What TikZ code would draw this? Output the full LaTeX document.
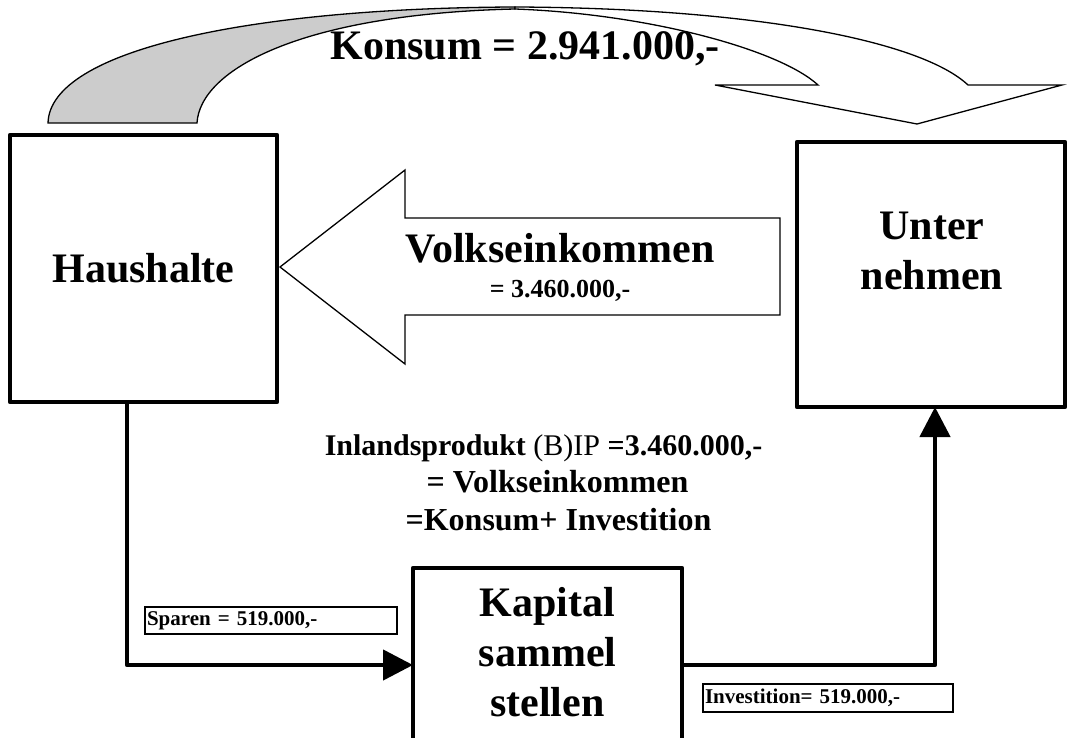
\documentclass[tikz,border=0pt]{standalone}
\usepackage{fontspec}
\setmainfont{Liberation Serif}
\usetikzlibrary{arrows.meta}
\definecolor{ribbonshade}{HTML}{CCCCCC}
\begin{document}
\begin{tikzpicture}[x=1pt,y=-1pt,
  box/.style={draw, line width=4.5pt, line join=round, outer sep=0pt, inner sep=0pt, fill=white},
  bigtxt/.style={font=\fontsize{42}{50}\selectfont\bfseries, align=center, inner sep=0pt},
  linetxt/.style={anchor=base, inner sep=0pt, font=\fontsize{#1}{#1}\selectfont\bfseries},
  flow/.style={line width=4.5pt, line join=round, -{Triangle[length=30pt,width=30pt]}},
  outline/.style={line width=1.3pt, line join=miter},
  lbl/.style={draw, line width=1.2pt, font=\fontsize{21}{24}\selectfont\bfseries,
    inner xsep=2pt, inner ysep=0pt, align=left, outer sep=0pt, anchor=north west,
    minimum height=27pt}
]
\clip (0,0) rectangle (1073,738);
\fill[white] (0,0) rectangle (1073,738);

% curved consumption ribbon: shaded underside on the left, top face with arrowhead on the right
\draw[outline, fill=ribbonshade]
  (48,123) .. controls (50,50) and (250,8) .. (515,7)
  -- (515,9) .. controls (300,14) and (200,70) .. (197,123) -- cycle;
\draw[outline, fill=white]
  (515,7) .. controls (750,8) and (920,40) .. (968,85)
  -- (1062,85) -- (917,124) -- (715,85) -- (818,85)
  .. controls (780,50) and (650,14) .. (515,9) -- cycle;
\node[linetxt=42] (konsum) at (525,60) {Konsum = 2.941.000,-};

% sectors
\node[box, minimum width=267pt, minimum height=267pt, font=\fontsize{42}{50}\selectfont\bfseries] (hh) at (143.5,268.5) {Haushalte};
\node[box, minimum width=268pt, minimum height=265pt] (un) at (931,274.5) {};
\node[bigtxt] (untxt) at (932,251) {Unter\\nehmen};
\node[box, minimum width=269pt, minimum height=194pt] (ks) at (547.5,665) {};
\node[bigtxt] (kstxt) at (547.5,652) {Kapital\\sammel\\stellen};

% national income flowing back to the households
\draw[outline, fill=white]
  (280,267) -- (405,170) -- (405,218) -- (780,218) -- (780,315)
  -- (405,315) -- (405,364) -- cycle;
\node[linetxt=42] (vk) at (560,262) {Volkseinkommen};
\node[linetxt=26] (vkval) at (560,297) {= 3.460.000,-};

% savings and investment
\draw[flow] ([xshift=-16.5pt]hh.south) |- (ks.west);
\draw[flow] (ks.east) -| ([xshift=4pt]un.south);
\node[lbl, text width=248pt] (sp) at (145,607) {Sparen = 519.000,-};
\node[lbl, text width=246pt, minimum height=28pt] (inv) at (703,684) {Investition= 519.000,-};

% identity in the middle
\node[linetxt=30] (ident1) at (543.5,455) {Inlandsprodukt {\mdseries (B)IP} =3.460.000,-};
\node[linetxt=32] (ident2) at (557.5,492) {= Volkseinkommen};
\node[linetxt=32] (ident3) at (558.5,530) {=Konsum+ Investition};
\end{tikzpicture}
\end{document}
